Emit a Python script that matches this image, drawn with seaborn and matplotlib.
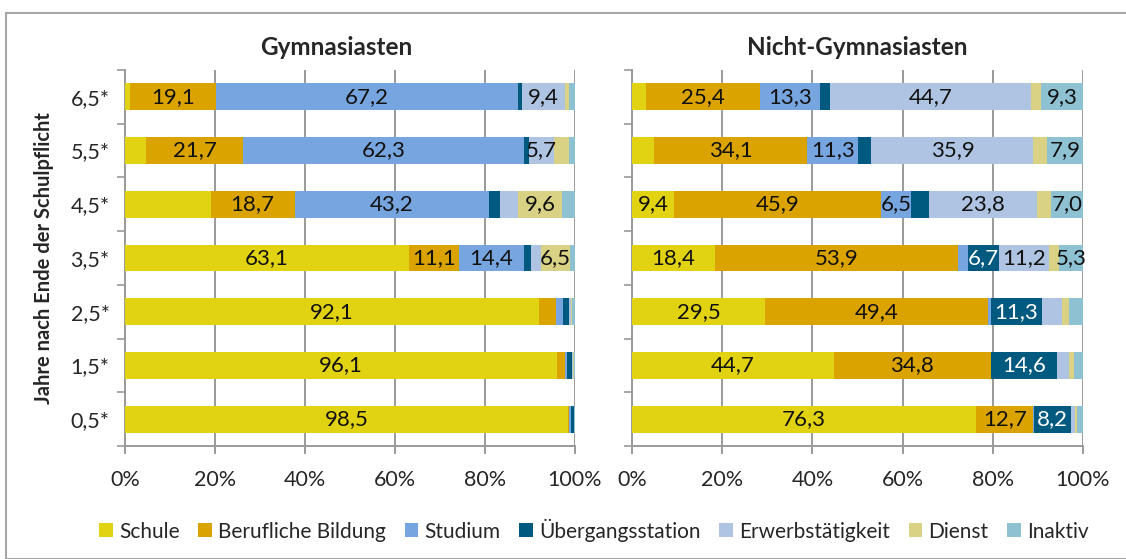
import numpy as np
import pandas as pd
import seaborn as sns
import matplotlib.pyplot as plt
from matplotlib.patches import Patch, Rectangle
from matplotlib.ticker import FixedLocator, PercentFormatter

# Kategorien von oben nach unten
jahre = ['6,5*', '5,5*', '4,5*', '3,5*', '2,5*', '1,5*', '0,5*']
gruppen = ['Schule', 'Berufliche Bildung', 'Studium', 'Übergangsstation',
           'Erwerbstätigkeit', 'Dienst', 'Inaktiv']
farben = ['#E2D312', '#DAA300', '#77A5E0', '#005A7F', '#AFC4E2', '#D9D285', '#8EC2D3']

# Gymnasiasten (Anteile in %)
gym_schule = [1.1, 4.6, 19.0, 63.1, 92.1, 96.1, 98.5]
gym_beruf = [19.1, 21.7, 18.7, 11.1, 3.6, 1.7, 0.2]
gym_studium = [67.2, 62.3, 43.2, 14.4, 1.6, 0.4, 0.3]
gym_uebergang = [0.9, 1.1, 2.4, 1.6, 1.3, 1.2, 0.7]
gym_erwerb = [9.4, 5.7, 4.1, 2.2, 0.4, 0.2, 0.1]
gym_dienst = [0.9, 3.3, 9.6, 6.5, 0.4, 0.1, 0.0]
gym_inaktiv = [1.4, 1.3, 3.0, 1.1, 0.6, 0.3, 0.2]

# Nicht-Gymnasiasten (Anteile in %)
ngym_schule = [3.0, 4.8, 9.4, 18.4, 29.5, 44.7, 76.3]
ngym_beruf = [25.4, 34.1, 45.9, 53.9, 49.4, 34.8, 12.7]
ngym_studium = [13.3, 11.3, 6.5, 2.3, 0.7, 0.2, 0.1]
ngym_uebergang = [2.1, 2.9, 4.1, 6.7, 11.3, 14.6, 8.2]
ngym_erwerb = [44.7, 35.9, 23.8, 11.2, 4.5, 2.6, 1.0]
ngym_dienst = [2.2, 3.1, 3.3, 2.2, 1.6, 1.0, 0.4]
ngym_inaktiv = [9.3, 7.9, 7.0, 5.3, 3.0, 2.1, 1.3]

# im Original ohne Beschriftung
gym_ohne_label = [('4,5*', 'Schule')]

gym = pd.DataFrame(dict(zip(gruppen, [gym_schule, gym_beruf, gym_studium, gym_uebergang,
                                      gym_erwerb, gym_dienst, gym_inaktiv])), index=jahre)
ngym = pd.DataFrame(dict(zip(gruppen, [ngym_schule, ngym_beruf, ngym_studium, ngym_uebergang,
                                       ngym_erwerb, ngym_dienst, ngym_inaktiv])), index=jahre)

sns.set_style('white')
plt.rcParams['font.family'] = ['Lato', 'DejaVu Sans']

grau = '#9A9A9A'
fig = plt.figure(figsize=(11.26, 5.59), dpi=100)
fig.patches.append(Rectangle((6 / 1126, 0), 1.1, 1 - 13 / 559, transform=fig.transFigure,
                             fill=False, edgecolor='#A6A6A6', linewidth=1.5))

ax1 = fig.add_axes([125 / 1126, 1 - 446 / 559, 450 / 1126, 376 / 559])
ax2 = fig.add_axes([632 / 1126, 1 - 446 / 559, 451 / 1126, 376 / 559])


def stapel(ax, df, titel, mit_labels, ohne=(), titel_x=0.5):
    cum = df.cumsum(axis=1)
    # kumulierte Balken von hinten nach vorne zeichnen
    for g, f in reversed(list(zip(gruppen, farben))):
        d = pd.DataFrame({'jahr': jahre, 'wert': cum[g].values})
        sns.barplot(data=d, y='jahr', x='wert', order=jahre, orient='h', color=f,
                    saturation=1, width=0.5, ax=ax, linewidth=0, zorder=3)
    for i, j in enumerate(jahre):
        for g in gruppen:
            v = df.loc[j, g]
            if v >= 5 and (j, g) not in ohne:
                c = 'white' if g == 'Übergangsstation' else '#111111'
                ax.text(cum.loc[j, g] - v / 2, i, f'{v:.1f}'.replace('.', ','),
                        ha='center', va='center', fontsize=16, color=c, zorder=5)
    ax.set_xlim(0, 100)
    ax.set_ylim(6.5, -0.5)
    ax.xaxis.set_major_locator(FixedLocator([0, 20, 40, 60, 80, 100]))
    ax.xaxis.set_major_formatter(PercentFormatter(decimals=0))
    ax.grid(axis='x', color=grau, linewidth=1.4, zorder=0)
    ax.set_axisbelow(True)
    for s in ['top', 'right']:
        ax.spines[s].set_visible(False)
    for s in ['left', 'bottom']:
        ax.spines[s].set_color(grau)
        ax.spines[s].set_linewidth(1.4)
    ax.tick_params(axis='x', direction='out', length=6, width=1.4, color=grau,
                   labelsize=15.5, pad=11, bottom=True)
    ax.yaxis.set_minor_locator(FixedLocator(np.arange(-0.5, 7, 1)))
    ax.tick_params(axis='y', which='minor', direction='out', length=6, width=1.2,
                   color=grau, left=True)
    ax.tick_params(axis='y', which='major', length=0, labelsize=15.5, pad=11,
                   labelleft=mit_labels)
    ax.set_xlabel('')
    ax.set_ylabel('')
    ax.set_title(titel, fontsize=17.5, fontweight='bold', pad=11, x=titel_x)


stapel(ax1, gym, 'Gymnasiasten', True, gym_ohne_label, titel_x=0.47)
stapel(ax2, ngym, 'Nicht-Gymnasiasten', False)
ax1.set_ylabel('Jahre nach Ende der Schulpflicht', fontsize=14.5, fontweight='bold', labelpad=12)

handles = [Patch(facecolor=f, edgecolor='none') for f in farben]
fig.legend(handles, gruppen, loc='center', bbox_to_anchor=(594 / 1126, 1 - 530 / 559),
           ncol=7, frameon=False, fontsize=15, handlelength=0.65, handleheight=0.65,
           handletextpad=0.3, columnspacing=0.9)

fig.savefig('out.png', dpi=100)
